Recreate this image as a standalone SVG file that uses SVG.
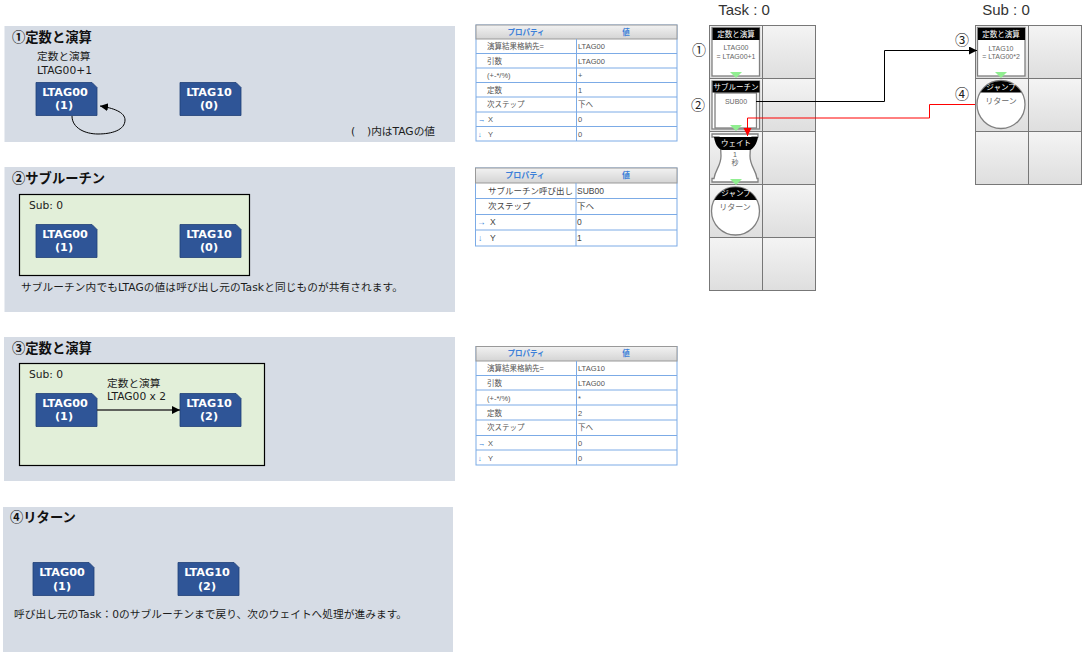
<svg xmlns="http://www.w3.org/2000/svg" width="1087" height="657" viewBox="0 0 1087 657">
<style>
text{font-family:"DejaVu Sans","Noto Sans CJK JP",sans-serif;fill:#222}
.panel{fill:#d6dce5}
.sub{fill:#e2efd9;stroke:#000;stroke-width:1.2}
.h{font-size:13.300px;font-weight:700;fill:#111;font-family:"Noto Sans CJK JP",sans-serif}
.t{font-size:10.700px;fill:#1c1c1c}
.tag{fill:#2f5597;stroke:#1f3f76;stroke-width:.8}
.tt{font-size:11.200px;font-weight:700;fill:#fff;text-anchor:middle}
.tb{fill:#fff;stroke:#7cabe6;stroke-width:1}
.th{fill:url(#hd);stroke:#999;stroke-width:1}
.thx{font-size:7.500px;font-weight:700;fill:#3b7fd8;text-anchor:middle}
.c1{font-size:7.500px;fill:#555;font-family:"Liberation Sans","Noto Sans CJK JP",sans-serif}
.c2{font-size:8.500px;fill:#444;font-family:"Liberation Sans","Noto Sans CJK JP",sans-serif}
.cell{fill:url(#gr);stroke:#777;stroke-width:1}
.bk{fill:#fff;stroke:#808080;stroke-width:1.300}
.bar{fill:#000}
.bt{font-size:7.500px;fill:#fff;text-anchor:middle;font-family:"Noto Sans CJK JP",sans-serif}
.bb{font-size:7px;fill:#666;text-anchor:middle;font-family:"Liberation Sans","Noto Sans CJK JP",sans-serif}
.g{fill:#90ee90}
.cap{font-size:15px;text-anchor:middle;fill:#333;font-family:"Liberation Sans",sans-serif}
.num{font-size:14px;text-anchor:middle;fill:#222;font-family:"Noto Sans CJK JP",sans-serif}
.conn{fill:none}
.ln{stroke:#7cabe6;fill:none}
</style>
<defs>
<linearGradient id="hd" x1="0" y1="0" x2="0" y2="1"><stop offset="0" stop-color="#f2f2f2"/><stop offset="1" stop-color="#d4d4d4"/></linearGradient>
<linearGradient id="gr" x1="0" y1="0" x2="0" y2="1"><stop offset="0" stop-color="#f4f4f4"/><stop offset="1" stop-color="#dedede"/></linearGradient>
<marker id="ak" markerWidth="9" markerHeight="9" refX="8" refY="4" orient="auto" markerUnits="userSpaceOnUse"><path d="M0 0L8 4L0 8z" fill="#000"/></marker>
<marker id="ar" markerWidth="9" markerHeight="9" refX="8" refY="4" orient="auto" markerUnits="userSpaceOnUse"><path d="M0 0L8 4L0 8z" fill="#f00"/></marker>
<path id="tag" class="tag" d="M0 0H56L61 5V33H0z"/>
</defs>

<g id="panels">
<rect class="panel" x="4.500" y="26" width="450.500" height="116"/>
<rect class="panel" x="4.500" y="167" width="450.500" height="145"/>
<rect class="panel" x="4" y="337" width="451" height="144"/>
<rect class="panel" x="3" y="507" width="450" height="145"/>
<rect class="sub" x="19.500" y="194.500" width="230" height="81"/>
<rect class="sub" x="19.500" y="363.500" width="245" height="102"/>
</g>

<g id="labels">
<text class="h" x="12" y="42">①定数と演算</text>
<text class="t" x="37" y="60">定数と演算</text>
<text class="t" x="37" y="74">LTAG00+1</text>
<text class="t" x="351" y="135">(</text><text class="t" x="367" y="135">)内はTAGの値</text>
<text class="h" x="12" y="183">②サブルーチン</text>
<text class="t" x="29" y="209">Sub: 0</text>
<text class="t" x="21" y="291" textLength="382">サブルーチン内でもLTAGの値は呼び出し元のTaskと同じものが共有されます。</text>
<text class="h" x="12" y="353">③定数と演算</text>
<text class="t" x="29" y="378">Sub: 0</text>
<text class="t" x="107" y="387">定数と演算</text>
<text class="t" x="107" y="400">LTAG00 x 2</text>
<text class="h" x="10" y="522">④リターン</text>
<text class="t" x="14" y="618" textLength="393">呼び出し元のTask：0のサブルーチンまで戻り、次のウェイトへ処理が進みます。</text>
</g>

<g id="n1a"><use href="#tag" x="36" y="82.500"/><text class="tt" x="65" y="96">LTAG00</text><text class="tt" x="64" y="109">(1)</text></g>
<g id="n1b"><use href="#tag" x="180" y="82.500"/><text class="tt" x="209" y="96">LTAG10</text><text class="tt" x="209" y="109">(0)</text></g>
<g id="n2a"><use href="#tag" x="36" y="224.500"/><text class="tt" x="65" y="238">LTAG00</text><text class="tt" x="64" y="251">(1)</text></g>
<g id="n2b"><use href="#tag" x="180" y="224.500"/><text class="tt" x="209" y="238">LTAG10</text><text class="tt" x="209" y="251">(0)</text></g>
<g id="n3a"><use href="#tag" x="36" y="393.500"/><text class="tt" x="65" y="407">LTAG00</text><text class="tt" x="64" y="420">(1)</text></g>
<g id="n3b"><use href="#tag" x="180" y="393.500"/><text class="tt" x="209" y="407">LTAG10</text><text class="tt" x="209" y="420">(2)</text></g>
<g id="n4a"><use href="#tag" x="33" y="562.500"/><text class="tt" x="62" y="576">LTAG00</text><text class="tt" x="62" y="590">(1)</text></g>
<g id="n4b"><use href="#tag" x="178" y="562.500"/><text class="tt" x="207" y="576">LTAG10</text><text class="tt" x="207" y="590">(2)</text></g>

<g id="table1">
<rect class="tb" x="476" y="25" width="201" height="116"/>
<rect class="th" x="476" y="25" width="201" height="14"/>
<path class="ln" d="M576.500 39V141M476 53.500H677M476 68H677M476 82.500H677M476 97H677M476 112H677M476 126.500H677"/>
<text class="thx" x="526" y="35">プロパティ</text><text class="thx" x="626" y="35">値</text>
<text class="c1" x="487" y="49">演算結果格納先=</text><text class="c1" x="578" y="49">LTAG00</text>
<text class="c1" x="487" y="64">引数</text><text class="c1" x="578" y="64">LTAG00</text>
<text class="c1" x="487" y="78">(+-*/%)</text><text class="c1" x="578" y="78">+</text>
<text class="c1" x="487" y="93">定数</text><text class="c1" x="578" y="93">1</text>
<text class="c1" x="487" y="107">次ステップ</text><text class="c1" x="578" y="107">下へ</text>
<text class="c1" x="478" y="122" style="fill:#3b7fd8">→</text><text class="c1" x="488" y="122">X</text><text class="c1" x="578" y="122">0</text>
<text class="c1" x="478" y="137" style="fill:#3b7fd8">↓</text><text class="c1" x="488" y="137">Y</text><text class="c1" x="578" y="137">0</text>
</g>

<g id="table2">
<rect class="tb" x="475.500" y="168" width="201.500" height="78"/>
<rect class="th" x="475.500" y="168" width="201.500" height="15"/>
<path class="ln" d="M576 183V246M475.500 198.500H677M475.500 214.500H677M475.500 230H677"/>
<text class="thx" x="525" y="178" style="font-size:8px">プロパティ</text><text class="thx" x="626" y="178" style="font-size:8px">値</text>
<text class="c2" x="488" y="194">サブルーチン呼び出し</text><text class="c2" x="577" y="194">SUB00</text>
<text class="c2" x="488" y="209">次ステップ</text><text class="c2" x="577" y="209">下へ</text>
<text class="c2" x="477" y="225" style="fill:#3b7fd8">→</text><text class="c2" x="490" y="225">X</text><text class="c2" x="577" y="225">0</text>
<text class="c2" x="478" y="241" style="fill:#3b7fd8">↓</text><text class="c2" x="490" y="241">Y</text><text class="c2" x="577" y="241">1</text>
</g>

<g id="table3">
<rect class="tb" x="476" y="346.500" width="201" height="118.500"/>
<rect class="th" x="476" y="346.500" width="201" height="14.500"/>
<path class="ln" d="M576.500 361V465M476 375.500H677M476 390H677M476 405H677M476 420H677M476 435.500H677M476 450H677"/>
<text class="thx" x="526" y="356">プロパティ</text><text class="thx" x="626" y="356">値</text>
<text class="c1" x="487" y="371">演算結果格納先=</text><text class="c1" x="578" y="371">LTAG10</text>
<text class="c1" x="487" y="386">引数</text><text class="c1" x="578" y="386">LTAG00</text>
<text class="c1" x="487" y="401">(+-*/%)</text><text class="c1" x="578" y="401">*</text>
<text class="c1" x="487" y="416">定数</text><text class="c1" x="578" y="416">2</text>
<text class="c1" x="487" y="430">次ステップ</text><text class="c1" x="578" y="430">下へ</text>
<text class="c1" x="478" y="446" style="fill:#3b7fd8">→</text><text class="c1" x="488" y="446">X</text><text class="c1" x="578" y="446">0</text>
<text class="c1" x="478" y="461" style="fill:#3b7fd8">↓</text><text class="c1" x="488" y="461">Y</text><text class="c1" x="578" y="461">0</text>
</g>

<g id="taskGrid">
<text class="cap" x="744" y="15">Task : 0</text>
<rect class="cell" x="709.500" y="25.500" width="53" height="53"/><rect class="cell" x="762.500" y="25.500" width="53" height="53"/>
<rect class="cell" x="709.500" y="78.500" width="53" height="53"/><rect class="cell" x="762.500" y="78.500" width="53" height="53"/>
<rect class="cell" x="709.500" y="131.500" width="53" height="53"/><rect class="cell" x="762.500" y="131.500" width="53" height="53"/>
<rect class="cell" x="709.500" y="184.500" width="53" height="53"/><rect class="cell" x="762.500" y="184.500" width="53" height="53"/>
<rect class="cell" x="709.500" y="237.500" width="53" height="53"/><rect class="cell" x="762.500" y="237.500" width="53" height="53"/>
<text class="num" x="699" y="55">①</text><text class="num" x="698" y="110">②</text>
</g>
<g id="subGrid">
<text class="cap" x="1006" y="15">Sub : 0</text>
<rect class="cell" x="975.500" y="25.500" width="53" height="53"/><rect class="cell" x="1028.500" y="25.500" width="53" height="53"/>
<rect class="cell" x="975.500" y="78.500" width="53" height="53"/><rect class="cell" x="1028.500" y="78.500" width="53" height="53"/>
<rect class="cell" x="975.500" y="131.500" width="53" height="53"/><rect class="cell" x="1028.500" y="131.500" width="53" height="53"/>
<text class="num" x="962" y="45">③</text><text class="num" x="962" y="99">④</text>
</g>

<g id="b1"><rect class="bk" x="712" y="27.500" width="47.500" height="48.500"/><rect class="bar" x="712.500" y="28" width="47" height="12"/><text class="bt" x="736" y="37">定数と演算</text><text class="bb" x="736" y="50">LTAG00</text><text class="bb" x="736" y="59">= LTAG00+1</text><path class="g" d="M730 72H742L736 78z"/></g>
<g id="b2"><rect class="bk" x="712" y="81" width="47.500" height="48"/><rect class="bk" x="715" y="93" width="41.500" height="35"/><rect class="bar" x="712.500" y="81" width="47" height="11.500"/><text class="bt" x="736" y="90">サブルーチン</text><text class="bb" x="736" y="104">SUB00</text><path class="g" d="M730 125H742L736 131z"/></g>
<g id="b3"><path class="bk" d="M712 134H758V137H752C751 145 750 148 750 156C750 166 756 170 757 178.500H758V182H712V178.500H714C715 170 721 166 721 156C721 148 720 145 719 137H712z"/><path class="bar" d="M714 137H758C757 144 753 149 750 150H722C718 149 715 144 714 137z"/><text class="bt" x="736" y="146">ウェイト</text><text class="bb" x="735" y="157">1</text><text class="bb" x="735" y="165">秒</text><path class="g" d="M730 179H742L736 185z"/></g>
<g id="b4"><circle class="bk" cx="735.500" cy="211" r="24"/><path class="bar" d="M714.300 200A24 24 0 0 1 756.700 200z"/><text class="bt" x="736" y="196">ジャンプ</text><text class="bb" x="735" y="210" style="font-size:8px">リターン</text></g>
<g id="b5"><rect class="bk" x="977.500" y="27.500" width="47.500" height="48.500"/><rect class="bar" x="978" y="28" width="47" height="12"/><text class="bt" x="1001" y="37">定数と演算</text><text class="bb" x="1001" y="51">LTAG10</text><text class="bb" x="1001" y="59">= LTAG00*2</text><path class="g" d="M995 72H1007L1001 78z"/></g>
<g id="b6"><circle class="bk" cx="1001" cy="104.500" r="24"/><path class="bar" d="M980.500 92.500A24 24 0 0 1 1021.500 92.500z"/><text class="bt" x="1001" y="90">ジャンプ</text><text class="bb" x="1001" y="104" style="font-size:8px">リターン</text></g>

<g id="connectors" class="conn">
<path d="M72 116C72 128 85 134 98 134C112 134 125 130 125 120C125 112 113 108 100 106" stroke="#000" stroke-width="1" marker-end="url(#ak)"/>
<path d="M97 410H180" stroke="#333" stroke-width="1.300" marker-end="url(#ak)"/>
<path d="M756 101.500H884.500V50.500H977" stroke="#000" stroke-width="1" marker-end="url(#ak)"/>
<path d="M975 104.500H929.500V118H747.500V136" stroke="#f00" stroke-width="1" marker-end="url(#ar)"/>
</g>
</svg>
